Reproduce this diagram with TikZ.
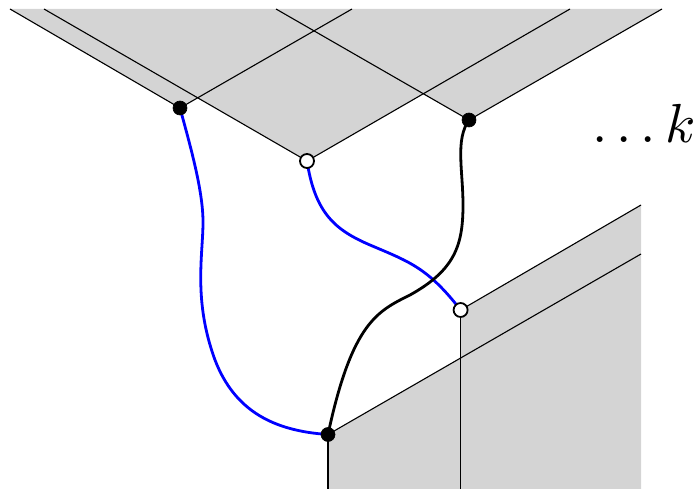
\documentclass[tikz,border=0pt]{standalone}
\begin{document}
\begin{tikzpicture}[x=1pt,y=-1pt,
  edge/.style={line width=1.1pt,black},
  wire/.style={line width=2.8pt},
  blackdot/.style={circle,fill=black,draw=black,line width=0.6pt,minimum size=14pt,inner sep=0pt},
  whitedot/.style={circle,fill=white,draw=black,line width=1.8pt,minimum size=14pt,inner sep=0pt}]
\useasboundingbox (0,0) rectangle (697,489);
\coordinate (a1) at (10,9);
\coordinate (a2) at (352,9);
\coordinate (a3) at (44,9);
\coordinate (a4) at (570,9);
\coordinate (a5) at (276,9);
\coordinate (a6) at (662,9);
\coordinate (b1) at (641,205);
\coordinate (b2) at (641,254);
\coordinate (c1) at (328,489);
\coordinate (c2) at (460.6,489);
\coordinate (br) at (641,489);
\coordinate (A) at (180,108);
\coordinate (B) at (307,161);
\coordinate (C) at (469,120);
\coordinate (D) at (460.6,310);
\coordinate (E) at (328,434.5);
\fill[black!17] (a1) -- (A) -- (198,97.6) -- (B) -- (422.7,94) -- (C) -- (a6) -- cycle;
\fill[black!17] (D) -- (b1) -- (br) -- (c1) -- (E) -- (460.6,357.8) -- cycle;
\draw[edge] (a1) -- (A); \draw[edge] (A) -- (a2);
\draw[edge] (a3) -- (B); \draw[edge] (B) -- (a4);
\draw[edge] (a5) -- (C); \draw[edge] (C) -- (a6);
\draw[edge] (D) -- (b1); \draw[edge] (E) -- (b2);
\draw[edge] (D) -- (c2); \draw[edge] (E) -- (c1);
\draw[wire,blue] (A) .. controls (190,145) and (203,190) .. (203,222) .. controls (203,255) and (193,300) .. (215,360) .. controls (235,412) and (275,431) .. (E);
\draw[wire,blue] (B) .. controls (315,213) and (335,230) .. (370,245) .. controls (410,262) and (428,268) .. (D);
\draw[wire] (C) .. controls (455,140) and (463,170) .. (463,205) .. controls (463,245) and (455,270) .. (410,295) .. controls (378,311) and (352,322) .. (E);
\node[blackdot] (nA) at (A) {};
\node[whitedot] (nB) at (B) {};
\node[blackdot] (nC) at (C) {};
\node[whitedot] (nD) at (D) {};
\node[blackdot] (nE) at (E) {};
\node[anchor=base east,inner sep=0pt,scale=5.5] (k) at (697,143) {$\ldots k$};
\end{tikzpicture}
\end{document}
